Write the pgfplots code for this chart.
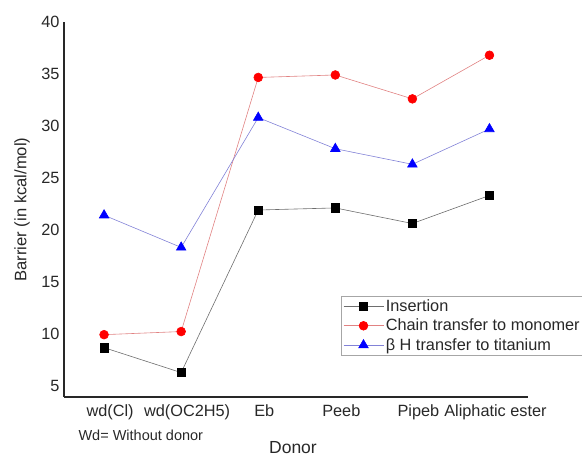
\documentclass[border=0pt]{standalone}
\usepackage{pgfplots}
\pgfplotsset{compat=1.18}
\usepackage{fontspec}
\setmainfont{Liberation Sans}
\definecolor{linek}{RGB}{110,110,110}
\definecolor{liner}{RGB}{225,130,130}
\definecolor{lineb}{RGB}{130,130,215}
\definecolor{axc}{RGB}{40,40,40}
\begin{document}
\begin{tikzpicture}
\path[use as bounding box] (-64pt,-60pt) rectangle (518pt,397pt);
\begin{axis}[
  at={(0pt,0pt)}, anchor=south west,
  scale only axis, width=464pt, height=375pt,
  xmin=-0.52, xmax=5.5, ymin=3.9, ymax=40,
  axis x line*=bottom, axis y line*=left,
  axis line style={axc, line width=1.3pt},
  major tick length=0pt,
  xtick={0,1,2,3,4,5},
  xticklabels={wd(Cl),wd(OC2H5),Eb,Peeb,Pipeb,Aliphatic ester},
  ytick={5,10,15,20,25,30,35,40},
  /pgf/number format/assume math mode=true,
  tick label style={font=\fontsize{16.3}{18}\selectfont, text=axc},
  xticklabel style={yshift=-4pt, xshift=6pt},
  yticklabel style={xshift=-1pt},
  ylabel={Barrier (in kcal/mol)},
  xlabel={Donor},
  ylabel style={at={(axis description cs:-0.0905,0.5)}, anchor=center, font=\fontsize{16.6}{18}\selectfont, text=axc},
  xlabel style={at={(axis description cs:0.4935,-0.134)}, anchor=center, font=\fontsize{17.5}{19}\selectfont, text=axc},
  legend style={at={(axis description cs:0.597,0.269)}, anchor=north west,
    draw=gray!70, font=\fontsize{16.3}{18}\selectfont, text=axc,
    row sep=2pt, inner xsep=2pt, inner ysep=1.5pt},
  legend cell align=left,
  legend image code/.code={\draw[mark repeat=2,mark phase=2,#1] plot coordinates {(0pt,0pt) (20pt,0pt) (40pt,0pt)};},
  clip=false,
]
\addplot[linek, line width=0.6pt, mark=square*, mark size=4.2pt, mark options={black, solid}]
  coordinates {(0,8.65) (1,6.25) (2,21.9) (3,22.1) (4,20.6) (5,23.3)};
\addlegendentry{Insertion}
\addplot[liner, line width=0.6pt, mark=*, mark size=4.4pt, mark options={red, draw=red, fill=red}]
  coordinates {(0,9.9) (1,10.2) (2,34.66) (3,34.9) (4,32.6) (5,36.8)};
\addlegendentry{Chain transfer to monomer}
\addplot[lineb, line width=0.6pt, mark=triangle*, mark size=5.5pt, mark options={blue, draw=blue, fill=blue}]
  coordinates {(0,21.4) (1,18.3) (2,30.8) (3,27.8) (4,26.3) (5,29.7)};
\addlegendentry{β H transfer to titanium}
\node[anchor=west, font=\fontsize{14.5}{16}\selectfont, text=axc] at (axis description cs:0.0237,-0.101) {Wd= Without donor};
\end{axis}
\end{tikzpicture}
\end{document}
